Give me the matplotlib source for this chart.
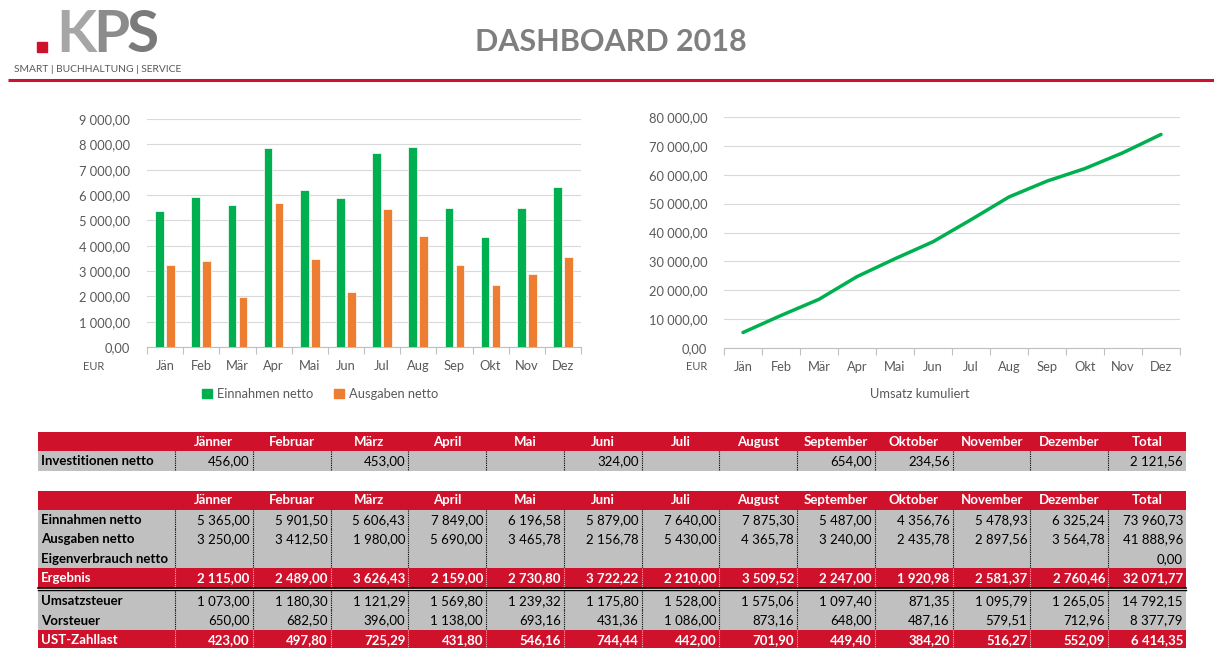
import matplotlib
matplotlib.use('Agg')
import matplotlib.pyplot as plt
from matplotlib.patches import Rectangle, Patch

plt.rcParams['font.family'] = ['Lato', 'DejaVu Sans']

W, H = 1214, 648

months_short = ['Jän', 'Feb', 'Mär', 'Apr', 'Mai', 'Jun', 'Jul', 'Aug', 'Sep', 'Okt', 'Nov', 'Dez']
months_long = ['Jänner', 'Februar', 'März', 'April', 'Mai', 'Juni', 'Juli', 'August',
               'September', 'Oktober', 'November', 'Dezember']

einnahmen = [5365.00, 5901.50, 5606.43, 7849.00, 6196.58, 5879.00, 7640.00, 7875.30,
             5487.00, 4356.76, 5478.93, 6325.24]
ausgaben = [3250.00, 3412.50, 1980.00, 5690.00, 3465.78, 2156.78, 5430.00, 4365.78,
            3240.00, 2435.78, 2897.56, 3564.78]
eigenverbrauch = [None] * 12
ergebnis = [2115.00, 2489.00, 3626.43, 2159.00, 2730.80, 3722.22, 2210.00, 3509.52,
            2247.00, 1920.98, 2581.37, 2760.46]
umsatzsteuer = [1073.00, 1180.30, 1121.29, 1569.80, 1239.32, 1175.80, 1528.00, 1575.06,
                1097.40, 871.35, 1095.79, 1265.05]
vorsteuer = [650.00, 682.50, 396.00, 1138.00, 693.16, 431.36, 1086.00, 873.16,
             648.00, 487.16, 579.51, 712.96]
zahllast = [423.00, 497.80, 725.29, 431.80, 546.16, 744.44, 442.00, 701.90,
            449.40, 384.20, 516.27, 552.09]
investitionen = [456.00, None, 453.00, None, None, 324.00, None, None, 654.00, 234.56, None, None]

umsatz_kumuliert = [5365.00, 11266.50, 16872.93, 24721.93, 30918.51, 36797.51, 44437.51,
                    52312.81, 57799.81, 62156.57, 67635.50, 73960.73]

totals = {
    'Investitionen netto': 2121.56,
    'Einnahmen netto': 73960.73,
    'Ausgaben netto': 41888.96,
    'Eigenverbrauch netto': 0.00,
    'Ergebnis': 32071.77,
    'Umsatzsteuer': 14792.15,
    'Vorsteuer': 8377.79,
    'UST-Zahllast': 6414.35,
}

RED = '#d0112b'
GRAY_ROW = '#c0c0c0'
GREEN = '#00b050'
ORANGE = '#ed7d31'
TXT = '#595959'
GRID = '#d9d9d9'
FS_TAB = 9.5


def fmt(v):
    if v is None:
        return ''
    s = f'{v:,.2f}'
    return s.replace(',', ' ').replace('.', ',')


def px_axes(fig, x0, y0, x1, y1):
    return fig.add_axes([x0 / W, 1 - y1 / H, (x1 - x0) / W, (y1 - y0) / H])


def style_chart(ax, ymax, step):
    ax.set_xlim(-0.5, 11.5)
    ax.set_ylim(0, ymax)
    ax.set_yticks(range(0, ymax + 1, step))
    ax.set_yticklabels([fmt(v) for v in range(0, ymax + 1, step)])
    ax.set_xticks(range(12))
    ax.set_xticklabels(months_short)
    ax.set_xticks([i - 0.5 for i in range(13)], minor=True)
    ax.tick_params(axis='x', which='major', length=0, pad=9, labelsize=9.3, labelcolor=TXT)
    ax.tick_params(axis='x', which='minor', length=5, color='#bfbfbf', width=0.8)
    ax.tick_params(axis='y', length=0, pad=12, labelsize=9.3, labelcolor=TXT)
    for s in ['top', 'right', 'left']:
        ax.spines[s].set_visible(False)
    ax.spines['bottom'].set_color('#bfbfbf')
    ax.spines['bottom'].set_linewidth(0.8)
    ax.yaxis.grid(True, color=GRID, linewidth=0.8)
    ax.set_axisbelow(True)


fig = plt.figure(figsize=(W / 100, H / 100), dpi=100)

# background / header / tables
bg = fig.add_axes([0, 0, 1, 1])
bg.set_xlim(0, W)
bg.set_ylim(H, 0)
bg.axis('off')

# logo
renderer = fig.canvas.get_renderer()
bg.add_patch(Rectangle((37, 42), 10, 10, color=RED))
xpos = 56
for letter, col in [('K', '#a6a6a6'), ('P', '#8c8c8c'), ('S', '#7a7a7a')]:
    t = bg.text(xpos, 52, letter, fontsize=42, fontweight='bold', color=col,
                va='baseline', ha='left')
    ext = t.get_window_extent(renderer)
    xpos += ext.width - 3
bg.text(14, 70, 'SMART | BUCHHALTUNG | SERVICE', fontsize=7.4, color=TXT, va='center', ha='left')
bg.plot([8, W], [80, 80], color=RED, lw=2.2, solid_capstyle='butt')
bg.text(611, 42, 'DASHBOARD 2018', fontsize=22, fontweight='bold', color='#7f7f7f',
        va='center', ha='center')

left = 38
label_r = 175
col_w = (1186 - 175) / 13
edges = [label_r + i * col_w for i in range(14)]


def header_row(y, h):
    bg.add_patch(Rectangle((left, y), edges[-1] - left, h, color=RED, lw=0))
    for i, m in enumerate(months_long + ['Total']):
        bg.text((edges[i] + edges[i + 1]) / 2, y + h / 2 + 0.5, m, fontsize=FS_TAB,
                fontweight='bold', color='white', ha='center', va='center')


def data_row(y, h, label, values, total, red=False):
    fc = RED if red else GRAY_ROW
    tc = 'white' if red else 'black'
    bg.add_patch(Rectangle((left, y), edges[-1] - left, h, color=fc, lw=0))
    bg.text(left + 3, y + h / 2 + 0.5, label, fontsize=FS_TAB, fontweight='bold',
            color=tc, ha='left', va='center')
    for i, v in enumerate(list(values) + [total]):
        bg.text(edges[i + 1] - 3, y + h / 2 + 0.5, fmt(v), fontsize=FS_TAB,
                fontweight='bold' if red else 'normal', color=tc, ha='right', va='center')
    bg.vlines(edges[:-1], y, y + h, colors='#f3b0b8' if red else 'black',
              linestyles=(0, (1, 1)), lw=0.8)


rh = 19.5
header_row(432, 19)
data_row(451, rh, 'Investitionen netto', investitionen, totals['Investitionen netto'])

y = 490.5
header_row(y, 19)
y += 19
rows = [('Einnahmen netto', einnahmen, False),
        ('Ausgaben netto', ausgaben, False),
        ('Eigenverbrauch netto', eigenverbrauch, False),
        ('Ergebnis', ergebnis, True)]
for label, vals, red in rows:
    data_row(y, rh, label, vals, totals[label], red)
    y += rh
bg.plot([left, edges[-1]], [y + 0.5, y + 0.5], color='black', lw=1.2)
bg.plot([left, edges[-1]], [y + 2.8, y + 2.8], color='black', lw=1.0)
y += 3.3
rows = [('Umsatzsteuer', umsatzsteuer, False),
        ('Vorsteuer', vorsteuer, False),
        ('UST-Zahllast', zahllast, True)]
for label, vals, red in rows:
    data_row(y, rh, label, vals, totals[label], red)
    y += rh

# bar chart
ax1 = px_axes(fig, 147, 119, 581, 347)
x = list(range(12))
ax1.bar([i - 0.15 for i in x], einnahmen, width=0.24, color=GREEN, edgecolor='white',
        linewidth=0.5, label='Einnahmen netto', zorder=3)
ax1.bar([i + 0.15 for i in x], ausgaben, width=0.24, color=ORANGE, edgecolor='white',
        linewidth=0.5, label='Ausgaben netto', zorder=3)
style_chart(ax1, 9000, 1000)
bg.text(83, 367, 'EUR', fontsize=8, color=TXT, ha='left', va='center')
handles = [Patch(color=GREEN, label='Einnahmen netto'), Patch(color=ORANGE, label='Ausgaben netto')]
fig.legend(handles=handles, loc='center', bbox_to_anchor=(320 / W, 1 - 394 / H), ncol=2,
           frameon=False, fontsize=9.3, labelcolor=TXT, handlelength=0.75, handleheight=0.75,
           handletextpad=0.4, columnspacing=1.6)

# line chart
ax2 = px_axes(fig, 724, 117, 1180, 348)
ax2.plot(x, umsatz_kumuliert, color=GREEN, lw=2.5, solid_capstyle='round', zorder=3)
style_chart(ax2, 80000, 10000)
bg.text(686, 367, 'EUR', fontsize=8, color=TXT, ha='left', va='center')
bg.text(920, 394, 'Umsatz kumuliert', fontsize=9.3, color=TXT, ha='center', va='center')

fig.savefig('out.png', dpi=100)
